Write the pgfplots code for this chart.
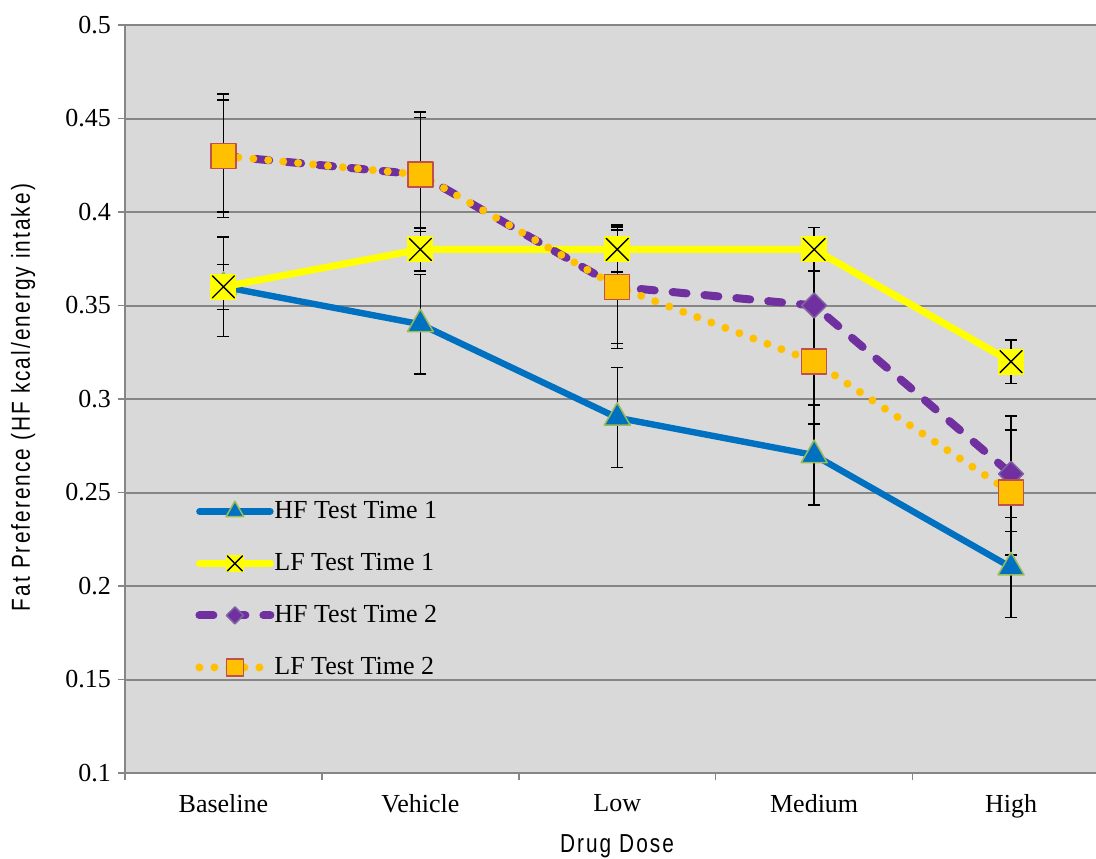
\documentclass[border=0pt]{standalone}
\usepackage{pgfplots}
\pgfplotsset{compat=1.18}
\usepackage{pgfplotstable}
\usepackage{fontspec}
\setmainfont{Liberation Serif}
\newfontfamily\labelfont[FakeStretch=0.8, LetterSpace=8]{Liberation Sans}

\definecolor{hfone}{HTML}{0070C0}
\definecolor{triedge}{HTML}{9BBB59}
\definecolor{lfone}{HTML}{FFFF00}
\definecolor{hftwo}{HTML}{7030A0}
\definecolor{diaedge}{HTML}{8064A2}
\definecolor{lftwo}{HTML}{FFC000}
\definecolor{sqedge}{HTML}{C0504D}
\definecolor{bggray}{HTML}{D9D9D9}
\definecolor{gridgray}{HTML}{868686}

\pgfdeclareplotmark{xbox}{%
  \pgfpathrectangle{\pgfqpoint{-\pgfplotmarksize}{-\pgfplotmarksize}}{\pgfqpoint{2\pgfplotmarksize}{2\pgfplotmarksize}}%
  \pgfusepathqfill
  \pgfpathmoveto{\pgfqpoint{-0.85\pgfplotmarksize}{-0.85\pgfplotmarksize}}%
  \pgfpathlineto{\pgfqpoint{0.85\pgfplotmarksize}{0.85\pgfplotmarksize}}%
  \pgfpathmoveto{\pgfqpoint{-0.85\pgfplotmarksize}{0.85\pgfplotmarksize}}%
  \pgfpathlineto{\pgfqpoint{0.85\pgfplotmarksize}{-0.85\pgfplotmarksize}}%
  \pgfusepathqstroke
}

\pgfplotstableread{
x y e
0 0.36 0.0266
1 0.34 0.0266
2 0.29 0.0267
3 0.27 0.0267
4 0.21 0.0267
}\hfone
\pgfplotstableread{
x y e
0 0.36 0.012
1 0.38 0.0115
2 0.38 0.012
3 0.38 0.0116
4 0.32 0.0116
}\lfone
\pgfplotstableread{
x y e
0 0.43 0.030
1 0.42 0.0305
2 0.36 0.0304
3 0.35 0.031
4 0.26 0.031
}\hftwo
\pgfplotstableread{
x y e
0 0.43 0.033
1 0.42 0.0335
2 0.36 0.033
3 0.32 0.0334
4 0.25 0.0334
}\lftwo

\begin{document}
\begin{tikzpicture}
\path[use as bounding box] (-62.5pt,-42.5pt) rectangle (485.5pt,386.5pt);
\begin{axis}[
  at={(0,0)}, anchor=south west,
  scale only axis, width=485.5pt, height=374pt,
  xmin=-0.5, xmax=4.4315, ymin=0.1, ymax=0.5,
  axis x line*=bottom, axis y line*=left,
  axis line style={draw=gridgray, line width=1pt},
  axis background/.style={fill=bggray},
  ytick={0.1,0.15,0.2,0.25,0.3,0.35,0.4,0.45,0.5},
  scaled y ticks=false,
  yticklabel style={/pgf/number format/.cd, fixed, precision=2, assume math mode=true},
  ymajorgrids, grid style={draw=gridgray, line width=1pt},
  tick align=outside,
  major tick length=3.5pt,
  tick style={draw=gridgray, line width=0.8pt},
  xtick={0,1,2,3,4}, xticklabels={Baseline,Vehicle,Low,Medium,High},
  xtick style={draw=none},
  xticklabel style={yshift=-3.5pt},
  extra x ticks={-0.5,0.5,1.5,2.5,3.5}, extra x tick labels={},
  extra x tick style={xtick style={draw=gridgray, line width=0.8pt}},
  tick label style={font=\fontsize{13}{15}\selectfont},
  xlabel={Drug Dose},
  xlabel style={at={(axis description cs:0.5067,-0.1056)}, anchor=base, font=\fontsize{13}{15}\selectfont\labelfont},
  ylabel={Fat Preference (HF kcal/energy intake)},
  ylabel style={at={(axis description cs:-0.105,0.502)}, anchor=center, font=\fontsize{13}{15}\selectfont\labelfont},
  legend style={draw=none, fill=none, at={(axis description cs:0.0721,0.3703)}, anchor=north west,
    font=\fontsize{13}{15}\selectfont, inner sep=0pt, row sep=11pt,
    nodes={inner xsep=0pt, inner ysep=1pt, text height=10pt, text depth=3pt}},
  legend cell align=left,
  legend image code/.code={\draw[mark repeat=2,mark phase=2,#1,every mark/.append style={scale=0.68}] plot coordinates {(0pt,0pt) (17.75pt,0pt) (35.5pt,0pt)};},
]
% error bars
\addplot[draw=none, mark=none, forget plot, error bars/.cd, y dir=both, y explicit,
  error bar style={draw=black, solid, line width=0.7pt},
  error mark options={draw=black, solid, rotate=90, mark size=3pt, line width=0.7pt}]
  table[x=x, y=y, y error=e] {\hfone};
\addplot[draw=none, mark=none, forget plot, error bars/.cd, y dir=both, y explicit,
  error bar style={draw=black, solid, line width=0.7pt},
  error mark options={draw=black, solid, rotate=90, mark size=3pt, line width=0.7pt}]
  table[x=x, y=y, y error=e] {\lfone};
\addplot[draw=none, mark=none, forget plot, error bars/.cd, y dir=both, y explicit,
  error bar style={draw=black, solid, line width=0.7pt},
  error mark options={draw=black, solid, rotate=90, mark size=3pt, line width=0.7pt}]
  table[x=x, y=y, y error=e] {\hftwo};
\addplot[draw=none, mark=none, forget plot, error bars/.cd, y dir=both, y explicit,
  error bar style={draw=black, solid, line width=0.7pt},
  error mark options={draw=black, solid, rotate=90, mark size=3pt, line width=0.7pt}]
  table[x=x, y=y, y error=e] {\lftwo};
% series
\addplot[hfone, line width=3.2pt, line join=round, line cap=round, mark=triangle*, mark size=7.5pt,
  mark options={fill=hfone, draw=triedge, line width=0.75pt, solid}]
  table[x=x, y=y] {\hfone};
\addlegendentry{HF Test Time 1}
\addplot[lfone, line width=3.5pt, line join=round, line cap=round, mark=xbox, mark size=6.5pt,
  mark options={fill=lfone, draw=black, line width=0.7pt, solid}]
  table[x=x, y=y] {\lfone};
\addlegendentry{LF Test Time 1}
\addplot[hftwo, line width=4pt, line join=round, line cap=round, dash pattern=on 7pt off 9pt,
  mark=square*, mark size=4.4pt,
  mark options={rotate=45, fill=hftwo, draw=diaedge, line width=0.75pt, solid}]
  table[x=x, y=y] {\hftwo};
\addlegendentry{HF Test Time 2}
\addplot[lftwo, line width=4pt, line join=round, line cap=round, dash pattern=on 0pt off 7.5pt,
  mark=square*, mark size=6.25pt,
  mark options={fill=lftwo, draw=sqedge, line width=0.75pt, solid}]
  table[x=x, y=y] {\lftwo};
\addlegendentry{LF Test Time 2}
\end{axis}
\end{tikzpicture}
\end{document}
